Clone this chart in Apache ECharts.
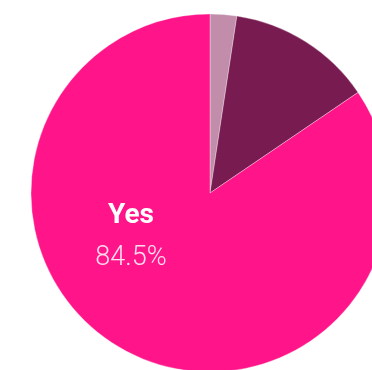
<!DOCTYPE html>
<html>
<head>
<meta charset="utf-8">
<script src="https://cdn.jsdelivr.net/npm/echarts@6/dist/echarts.min.js"></script>
<style>
  html, body { margin: 0; padding: 0; background: #fff; }
  #chart { width: 372px; height: 370px; }
</style>
</head>
<body>
<div id="chart"></div>
<script>
// Answer shares, in percent, clockwise from 12 o'clock
const categories = ['Unsure', 'No', 'Yes'];
const shares = [2.4, 13.1, 84.5];
const sliceColors = ['#C28DAA', '#781B50', '#FF1589'];
const labelledCategory = 'Yes';

const chart = echarts.init(document.getElementById('chart'), null, { renderer: 'canvas' });

const data = categories.map((name, i) => ({
  name,
  value: shares[i],
  itemStyle: { color: sliceColors[i] },
  label: { show: name === labelledCategory }
}));

chart.setOption({
  animation: false,
  series: [{
    type: 'pie',
    center: [210, 193],
    radius: 179,
    startAngle: 90,
    clockwise: true,
    data,
    itemStyle: { borderColor: 'rgba(255,255,255,0.55)', borderWidth: 0.6 },
    label: {
      position: 'inside',
      formatter: p => '{name|' + p.name + '}\n{val|' + p.value.toFixed(1) + '%}',
      rich: {
        name: { fontFamily: 'Roboto, Liberation Sans, sans-serif', fontWeight: 'bold', fontSize: 28, color: '#fff', lineHeight: 42, align: 'center' },
        val: { fontFamily: 'Roboto, Liberation Sans, sans-serif', fontWeight: 300, fontSize: 27, color: '#FFDDEE', lineHeight: 42, align: 'center' }
      }
    },
    labelLayout: { x: 131, y: 237, align: 'center', verticalAlign: 'middle' },
    labelLine: { show: false },
    emphasis: { disabled: true }
  }]
});
</script>
</body>
</html>
